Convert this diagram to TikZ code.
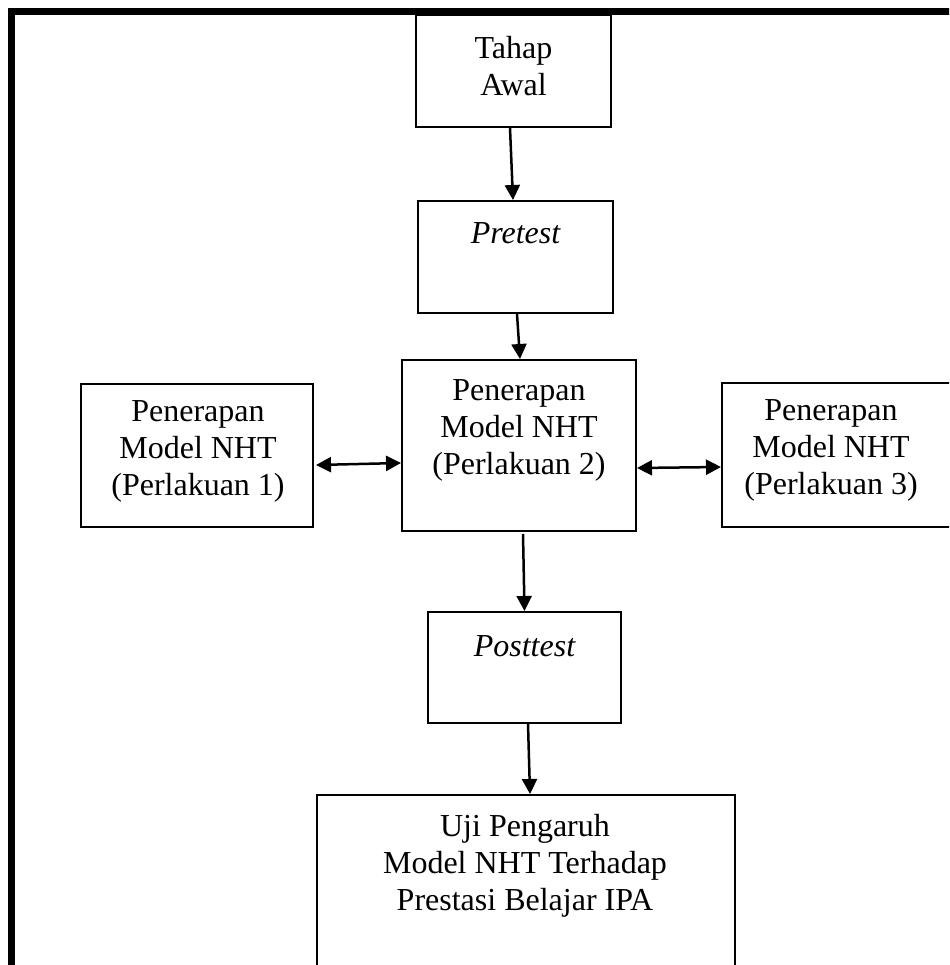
\documentclass[tikz,border=0pt]{standalone}
\usepackage{fontspec}
\setmainfont{Liberation Serif}
\usetikzlibrary{arrows.meta}
\begin{document}
\begin{tikzpicture}[x=1pt,y=-1pt,
  box/.style={draw,line width=2pt,rectangle,inner sep=0pt},
  txt/.style={align=center,inner sep=0pt,font=\fontsize{32}{37}\selectfont},
  arr/.style={line width=2.5pt,-{Triangle[length=15pt,width=15pt]}},
  darr/.style={line width=2.5pt,{Triangle[length=15pt,width=15pt]}-{Triangle[length=15pt,width=15pt]}}]
\useasboundingbox (0,0) rectangle (949,965);
\clip (0,0) rectangle (949,965);
\fill[white] (0,0) rectangle (949,965);
% frame
\draw[line width=7pt] (11.5,980) -- (11.5,11.5) -- (960,11.5);
% boxes
\node[box,minimum width=195pt,minimum height=112pt] (awal) at (513.5,71) {};
\node[box,minimum width=195pt,minimum height=112pt] (pre) at (515.5,257) {};
\node[box,minimum width=234pt,minimum height=171pt] (c2) at (519,445.5) {};
\node[box,minimum width=232pt,minimum height=143pt] (c1) at (197,455.5) {};
\node[box,minimum width=240pt,minimum height=144pt] (c3) at (842,455) {};
\node[box,minimum width=193pt,minimum height=111pt] (post) at (524.5,667.5) {};
\node[box,minimum width=418pt,minimum height=220pt] (fin) at (526,905) {};
% texts
\node[txt] (tawal) at (513.5,66) {Tahap\\Awal};
\node[txt] (tpre) at (515.5,233) {\itshape Pretest};
\node[txt] (tc2) at (519,430) {Penerapan\\Model NHT\\(Perlakuan 2)};
\node[txt] (tc1) at (198,451) {Penerapan\\Model NHT\\(Perlakuan 1)};
\node[txt] (tc3) at (831,450) {Penerapan\\Model NHT\\(Perlakuan 3)};
\node[txt] (tpost) at (524.5,646) {\itshape Posttest};
\node[txt] (tfin) at (525,866) {Uji Pengaruh\\Model NHT Terhadap\\Prestasi Belajar IPA};
% arrows
\draw[arr] ([xshift=-3.5pt]awal.south) -- ([xshift=-2.5pt]pre.north);
\draw[arr] ([xshift=1.5pt]pre.south) -- ([xshift=1pt]c2.north);
\draw[arr] ([xshift=4pt,yshift=-2pt]c2.south) -- (post.north);
\draw[arr] ([xshift=3.5pt]post.south) -- ([xshift=4pt]fin.north);
\draw[darr] ([xshift=2pt,yshift=-9.5pt]c1.east) -- ([yshift=-17.5pt]c2.west);
\draw[darr] ([yshift=-22.5pt]c2.east) -- ([yshift=-12pt]c3.west);
\end{tikzpicture}
\end{document}
